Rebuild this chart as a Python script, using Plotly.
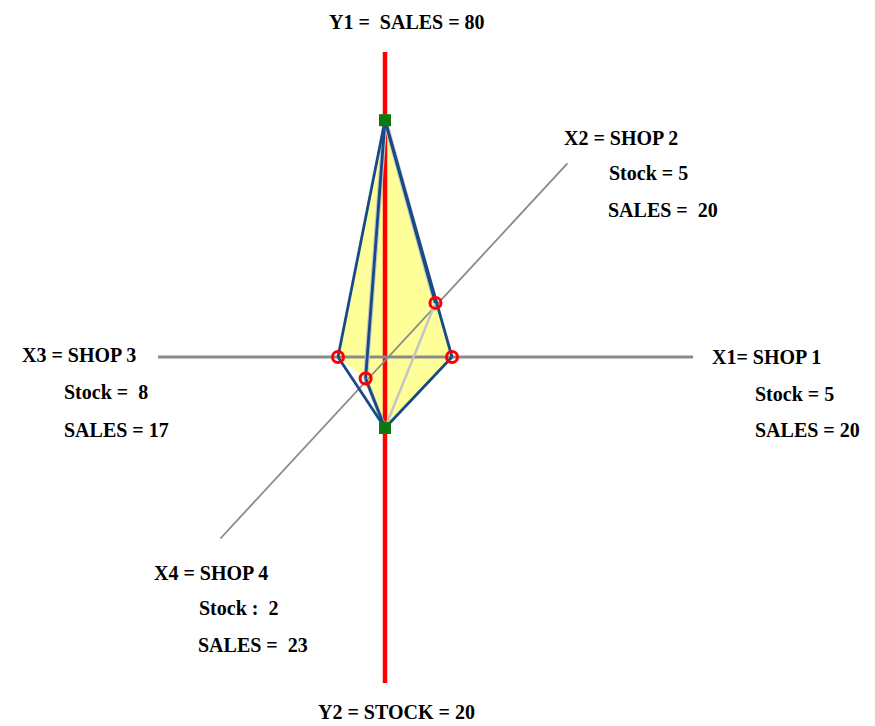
import math
import plotly.graph_objects as go

# ---------------- data ----------------
axis_names = ["X1", "X2", "X3", "X4"]
shops = ["SHOP 1", "SHOP 2", "SHOP 3", "SHOP 4"]
stock = [5, 5, 8, 2]
sales = [20, 20, 17, 23]
total_sales = 80
total_stock = 20
# position of each shop's point along its own axis
shop_axis_reading = [67, 74, 47, 29]
shop_axis_angle = [0, 47, 180, 228]

# ---------------- style / geometry ----------------
SALES_UNIT = 2.96
STOCK_UNIT = 3.55
FONT = "Liberation Serif"
FS = 20
BLUE = "#184a86"
LGRAY = "#c4c4c4"
AXGRAY = "#8a8a8a"

def pt(r, ang):
    a = math.radians(ang)
    return r * math.cos(a), r * math.sin(a)

shop_pts = [pt(r, a) for r, a in zip(shop_axis_reading, shop_axis_angle)]
top = (0, total_sales * SALES_UNIT)
bottom = (0, -total_stock * STOCK_UNIT)

fig = go.Figure()

def line(p, q, color, width, dash=None):
    fig.add_trace(go.Scatter(x=[p[0], q[0]], y=[p[1], q[1]], mode="lines",
                             line=dict(color=color, width=width, dash=dash),
                             hoverinfo="skip", showlegend=False))

# yellow body
hull = [top, shop_pts[2], shop_pts[3], bottom, shop_pts[0], shop_pts[1], top]
fig.add_trace(go.Scatter(x=[p[0] for p in hull], y=[p[1] for p in hull],
                         mode="lines", fill="toself", fillcolor="#ffff99",
                         line=dict(width=0), hoverinfo="skip", showlegend=False))

# axes
line((0, 305), (0, -326), "#ff0000", 4.5)
line((-227, 0), (308, 0), AXGRAY, 3)
line(pt(-245, 47.8), pt(266, 46.7), AXGRAY, 1.8)

# light gray shadow edges
line(top, shop_pts[1], LGRAY, 5)
line(top, shop_pts[3], LGRAY, 5)
line(shop_pts[1], bottom, LGRAY, 2.5)
line(shop_pts[3], bottom, LGRAY, 4)

# blue edges
for i in [0, 1, 2, 3]:
    line(top, shop_pts[i], BLUE, 2.8)
for i in [0, 2, 3]:
    line(shop_pts[i], bottom, BLUE, 2.8)

# markers
fig.add_trace(go.Scatter(x=[p[0] for p in shop_pts], y=[p[1] for p in shop_pts],
                         mode="markers",
                         marker=dict(symbol="circle-open", size=11, color="#ff0000",
                                     line=dict(width=3, color="#ff0000")),
                         hoverinfo="skip", showlegend=False))
fig.add_trace(go.Scatter(x=[top[0], bottom[0]], y=[top[1], bottom[1]], mode="markers",
                         marker=dict(symbol="square", size=12, color="#0a7a10"),
                         hoverinfo="skip", showlegend=False))

# labels
def label(x, y, txt):
    fig.add_annotation(x=x, y=y, text="<b>" + txt + "</b>", showarrow=False,
                       xanchor="left", yanchor="middle",
                       font=dict(family=FONT, size=FS, color="#000000"))

label(-58, 335, f"Y1 =  SALES = {total_sales}")
label(-69, -355, f"Y2 = STOCK = {total_stock}")

lab_pos = [
    [(325, 0), (368, -37), (368, -73)],
    [(177, 219), (222, 184), (221, 147)],
    [(-365, 2), (-323, -35), (-323, -73)],
    [(-233, -216), (-188, -251), (-189, -288)],
]
head_fmt = ["{a}= {s}", "{a} = {s}", "{a} = {s}", "{a} = {s}"]
stock_fmt = ["Stock = {v}", "Stock = {v}", "Stock =  {v}", "Stock :  {v}"]
sales_fmt = ["SALES = {v}", "SALES =  {v}", "SALES = {v}", "SALES =  {v}"]
for i in range(4):
    (hx, hy), (sx, sy), (ax, ay) = lab_pos[i]
    label(hx, hy, head_fmt[i].format(a=axis_names[i], s=shops[i]))
    label(sx, sy, stock_fmt[i].format(v=stock[i]))
    label(ax, ay, sales_fmt[i].format(v=sales[i]))

fig.update_layout(
    width=875, height=726,
    margin=dict(l=0, r=0, t=0, b=0),
    paper_bgcolor="#ffffff", plot_bgcolor="#ffffff",
    xaxis=dict(range=[-385, 490], visible=False, fixedrange=True),
    yaxis=dict(range=[-369, 357], visible=False, fixedrange=True),
    hovermode=False,
)
fig.write_html("out.html", config={"staticPlot": True},
               post_script="document.body.style.margin='0';document.body.style.overflow='hidden';")
